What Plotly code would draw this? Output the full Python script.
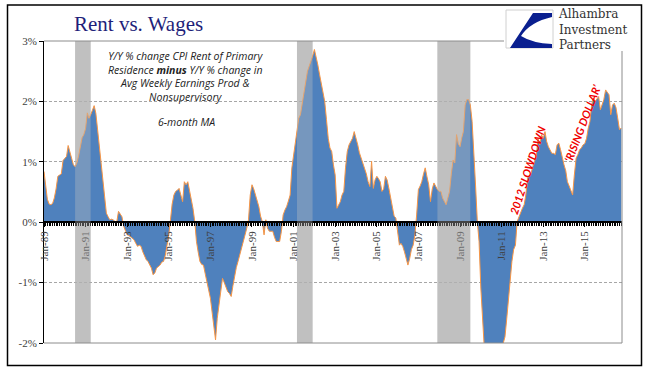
import plotly.graph_objects as go
import pandas as pd

# ---- data: Y/Y % change CPI rent minus Y/Y % change avg weekly earnings (6-mo MA), monthly from Jan 1989
rent_1989_1992 = [
    0.84, 0.55, 0.38, 0.30, 0.29, 0.31, 0.40, 0.55, 0.76, 0.78, 0.80, 1.02,
    1.06, 1.09, 1.27, 1.15, 1.03, 0.95, 0.92, 0.98, 1.10, 1.28, 1.40, 1.45,
    1.55, 1.81, 1.72, 1.78, 1.86, 1.93, 1.80, 1.55, 1.30, 0.98, 0.70, 0.45,
    0.15, 0.09, 0.04, 0.05, 0.04, 0.01, 0.00, 0.18, 0.12, 0.09, -0.07, -0.15,
]
rent_1993_1996 = [
    -0.21, -0.22, -0.24, -0.27, -0.29, -0.35, -0.40, -0.38, -0.40, -0.49, -0.55, -0.62,
    -0.65, -0.72, -0.76, -0.87, -0.84, -0.76, -0.74, -0.71, -0.66, -0.65, -0.55, -0.40,
    -0.21, 0.05, 0.30, 0.45, 0.51, 0.53, 0.56, 0.45, 0.34, 0.67, 0.62, 0.67,
    0.51, 0.40, 0.23, 0.01, -0.32, -0.50, -0.65, -0.70, -0.71, -0.85, -0.98, -1.10,
]
rent_1997_2000 = [
    -1.26, -1.50, -1.70, -1.95, -1.59, -1.35, -1.20, -0.93, -1.00, -1.09, -1.15, -1.18,
    -1.23, -1.05, -0.87, -0.75, -0.65, -0.55, -0.43, -0.32, -0.21, -0.10, 0.04, 0.45,
    0.62, 0.55, 0.45, 0.35, 0.26, 0.10, 0.01, -0.21, 0.04, -0.10, -0.15, -0.15,
    -0.15, -0.25, -0.32, -0.32, -0.32, -0.15, 0.12, 0.20, 0.26, 0.35, 0.45, 0.90,
]
rent_2001_2004 = [
    1.10, 1.28, 1.50, 1.72, 1.78, 1.95, 2.17, 2.35, 2.50, 2.58, 2.66, 2.75,
    2.86, 2.75, 2.61, 2.45, 2.28, 2.15, 2.00, 1.70, 1.39, 1.23, 1.17, 0.95,
    0.78, 0.23, 0.28, 0.34, 0.45, 0.51, 0.90, 1.17, 1.28, 1.35, 1.39, 1.50,
    1.40, 1.28, 1.15, 1.06, 0.98, 0.90, 0.80, 0.67, 0.59, 1.01, 0.56, 0.70,
]
rent_2005_2008 = [
    0.76, 0.72, 0.67, 0.51, 0.55, 0.76, 0.70, 0.56, 0.40, 0.23, 0.10, 0.07,
    -0.21, -0.38, -0.35, -0.40, -0.49, -0.60, -0.71, -0.60, -0.45, -0.38, -0.21, 0.12,
    0.54, 0.60, 0.67, 0.80, 0.90, 0.75, 0.62, 0.34, 0.55, 0.65, 0.58, 0.54,
    0.51, 0.51, 0.40, 0.34, 0.29, 0.40, 0.51, 0.80, 1.03, 0.98, 1.45, 1.30,
]
rent_2009_2012 = [
    1.25, 1.40, 1.50, 1.94, 2.03, 2.03, 1.94, 1.67, 1.20, 0.60, 0.01, -0.32,
    -1.09, -1.70, -2.05, -2.30, -2.40, -2.50, -2.50, -2.50, -2.45, -2.40, -2.30, -2.20,
    -2.10, -2.00, -1.90, -1.60, -1.31, -0.90, -0.65, -0.45, -0.38, 0.01, 0.09, 0.18,
    0.23, 0.29, 0.45, 0.73, 0.78, 0.81, 0.92, 1.03, 1.10, 1.39, 1.28, 1.45,
]
rent_2013_2016 = [
    1.39, 1.50, 1.34, 1.25, 1.20, 1.14, 1.14, 1.12, 1.28, 1.31, 1.20, 1.06,
    0.95, 0.85, 0.67, 0.60, 0.51, 0.45, 0.78, 1.06, 1.12, 1.20, 1.23, 1.28,
    1.30, 1.39, 1.55, 1.67, 1.94, 2.06, 2.00, 2.04, 2.08, 1.86, 1.95, 2.03,
    2.19, 2.15, 2.11, 1.78, 1.94, 1.97, 1.90, 1.72, 1.53, 1.56,
]
series_start = "1989-01-01"

recession_starts = ["1990-07-01", "2001-03-01", "2007-12-01"]
recession_ends = ["1991-03-31", "2001-11-30", "2009-06-30"]

y_tick_vals = [-2, -1, 0, 1, 2, 3]
y_tick_text = ["-2%", "-1%", "0%", "1%", "2%", "3%"]
x_tick_every = "M24"
x_range = ["1989-01-01", "2016-10-15"]
y_range = [-2, 3]

values = (rent_1989_1992 + rent_1993_1996 + rent_1997_2000 + rent_2001_2004
          + rent_2005_2008 + rent_2009_2012 + rent_2013_2016)
dates = pd.date_range(series_start, periods=len(values), freq="MS")

# ---- layout geometry (pixels of the 655x375 page)
W, H = 655, 375
L, R, T, B = 44, 622, 41, 343


def px(x):
    return (x - L) / (R - L)


def py(y):
    return (B - y) / (B - T)


fig = go.Figure()
fig.add_trace(go.Scatter(
    x=dates, y=values, mode="lines", fill="tozeroy",
    fillcolor="#4F81BD", line=dict(color="#F79646", width=1),
    hoverinfo="skip", showlegend=False,
))

shapes = []
for s, e in zip(recession_starts, recession_ends):
    shapes.append(dict(type="rect", xref="x", yref="paper", x0=s, x1=e, y0=0, y1=1,
                       fillcolor="#C0C0C0", line=dict(width=0), layer="below"))
    shapes.append(dict(type="rect", xref="x", yref="paper", x0=s, x1=e, y0=0, y1=1,
                       fillcolor="rgba(192,192,192,0.35)", line=dict(width=0), layer="above"))

gray = "#8C8C8C"
# plot border lines (top, bottom, right)
shapes.append(dict(type="line", xref="paper", yref="paper", x0=0, x1=px(505), y0=1, y1=1,
                   line=dict(color=gray, width=1), layer="above"))
shapes.append(dict(type="line", xref="paper", yref="paper", x0=0, x1=1, y0=0, y1=0,
                   line=dict(color=gray, width=1), layer="above"))
shapes.append(dict(type="line", xref="paper", yref="paper", x0=1, x1=1, y0=0, y1=py(51),
                   line=dict(color=gray, width=1), layer="above"))
# white logo backing
shapes.append(dict(type="rect", xref="paper", yref="paper", x0=px(504), x1=px(638), y0=py(50), y1=py(8),
                   fillcolor="white", line=dict(width=0), layer="above"))
# logo box
shapes.append(dict(type="rect", xref="paper", yref="paper", x0=px(506), x1=px(553), y0=py(48), y1=py(10),
                   fillcolor="white", line=dict(color="#D0D0D0", width=1), layer="above"))


def pth(points):
    out = []
    for cmd, coords in points:
        if coords:
            out.append(cmd + " " + " ".join(
                f"{px(coords[i]):.4f},{py(coords[i + 1]):.4f}" for i in range(0, len(coords), 2)))
        else:
            out.append(cmd)
    return " ".join(out)


swoosh = pth([("M", (533, 13)), ("L", (552, 13)), ("L", (552, 17)),
              ("Q", (530, 22, 521, 36)), ("Q", (532, 43, 552, 44)),
              ("L", (552, 48)), ("L", (510, 48)), ("Z", None)])
shapes.append(dict(type="path", xref="paper", yref="paper", path=swoosh,
                   fillcolor="#0A1F8F", line=dict(width=0), layer="above"))

# outer frame
shapes.append(dict(type="rect", xref="paper", yref="paper", x0=px(7.5), x1=px(641.5), y0=py(365.5), y1=py(5),
                   fillcolor="rgba(0,0,0,0)", line=dict(color="black", width=1.5), layer="above"))

annotations = [
    dict(text="Rent vs. Wages", x=px(72), y=py(24), xanchor="left", yanchor="middle",
         font=dict(family="Liberation Serif", size=21, color="#1F1F7A")),
    dict(text="Y/Y % change CPI Rent of Primary<br>Residence <b>minus</b> Y/Y % change in<br>"
              "Avg Weekly Earnings Prod &<br>Nonsupervisory",
         x=px(186), y=py(76.5), xanchor="center", yanchor="middle", align="center",
         font=dict(family="Open Sans", size=10.5, color="#222222", style="italic")),
    dict(text="6-month MA", x=px(186), y=py(122), xanchor="center", yanchor="middle",
         font=dict(family="Open Sans", size=10.5, color="#222222", style="italic")),
    dict(text="<b>2012 SLOWDOWN</b>", x=px(527), y=py(170), textangle=-72,
         xanchor="center", yanchor="middle",
         font=dict(family="Lato", size=11, color="#F00000", style="italic")),
    dict(text="<b>\u2018RISING DOLLAR\u2019</b>", x=px(582), y=py(123), textangle=-69,
         xanchor="center", yanchor="middle",
         font=dict(family="Lato", size=11, color="#F00000", style="italic")),
    dict(text="Alhambra<br>Investment<br>Partners", x=px(556), y=py(29.5),
         xanchor="left", yanchor="middle", align="left",
         font=dict(family="DejaVu Serif", size=12, color="#333333")),
]
for a in annotations:
    a.update(xref="paper", yref="paper", showarrow=False)

zero_pos = (0 - y_range[0]) / (y_range[1] - y_range[0])

fig.update_layout(
    width=W, height=H,
    margin=dict(l=L, r=W - R, t=T, b=H - B),
    paper_bgcolor="white", plot_bgcolor="white",
    shapes=shapes, annotations=annotations,
    xaxis=dict(
        type="date", range=x_range, anchor="free", position=zero_pos,
        tick0="1989-01-01", dtick=x_tick_every, tickformat="%b-%y", tickangle=-90,
        showline=True, linecolor="black", linewidth=1.5,
        ticks="outside", ticklen=4, tickcolor="black", tickwidth=1,
        minor=dict(dtick="M1", ticks="outside", ticklen=3, tickcolor="black", tickwidth=1),
        showgrid=False, zeroline=False,
        tickfont=dict(family="Liberation Serif", size=11, color="#404040"),
    ),
    yaxis=dict(
        range=y_range, tickvals=y_tick_vals, ticktext=y_tick_text,
        showline=True, linecolor="black", linewidth=1,
        ticks="outside", ticklen=4, tickcolor="black",
        showgrid=True, gridcolor="#A6A6A6", gridwidth=1, griddash="3px,2px",
        zeroline=False,
        tickfont=dict(family="Liberation Serif", size=11, color="#404040"),
    ),
)

fig.write_html("out.html", config={"displayModeBar": False},
               post_script="document.body.style.margin='0';document.body.style.overflow='hidden';")
